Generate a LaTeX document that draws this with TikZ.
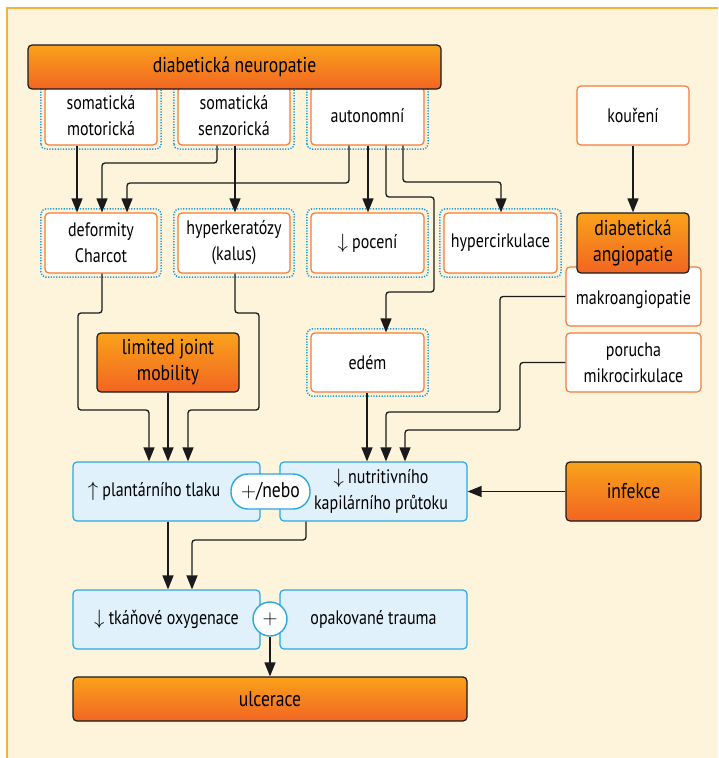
\documentclass[tikz,border=0pt]{standalone}
\usepackage{fontspec}
\setmainfont{PT Sans}[FakeStretch=0.82]
\usetikzlibrary{arrows.meta}
\definecolor{cream}{HTML}{FEF4DC}
\definecolor{frameor}{HTML}{F9B233}
\definecolor{borange}{HTML}{F47B3A}
\definecolor{dark}{HTML}{1A1A1A}
\definecolor{gtop}{HTML}{F9A21B}
\definecolor{gbot}{HTML}{F26522}
\definecolor{bblue}{HTML}{29A8E0}
\definecolor{lblue}{HTML}{E0F1FB}
\definecolor{dblue}{HTML}{1B9BD7}
\tikzset{
 base/.style={align=center, inner sep=0pt, font=\fontsize{19.5}{26}\selectfont},
 wbox/.style={base, draw=borange, fill=white, line width=1.2pt, rounded corners=4pt},
 obox/.style={base, draw=dark, line width=1.2pt, rounded corners=4pt, top color=gtop, bottom color=gbot, font=\fontsize{21.5}{26}\selectfont},
 bbox/.style={base, draw=bblue, fill=lblue, line width=1.2pt, rounded corners=4pt},
 dotline/.style={draw=dblue, line width=1.5pt, dash pattern=on 1.2pt off 1.5pt, rounded corners=5pt},
 conn/.style={draw=dark, line width=1.3pt, rounded corners=3pt, -{Triangle[length=14pt,width=11pt]}},
}
\begin{document}
\begin{tikzpicture}[x=1pt,y=-1pt]
\useasboundingbox (0,0) rectangle (718,758);
\fill[cream] (7,8) rectangle (718,758);
\draw[frameor, line width=1.5pt] (7,758) -- (7,8) -- (718,8);

% top row
\node[wbox, minimum width=112pt, minimum height=58pt] (sm) at (101,116) {somatická\\motorická};
\node[wbox, minimum width=112pt, minimum height=58pt] (ss) at (234,116) {somatická\\senzorická};
\node[wbox, minimum width=113pt, minimum height=58pt] (au) at (367.5,116) {autonomní};
% second row
\node[wbox, minimum width=112pt, minimum height=60pt] (dc) at (101,243) {deformity\\Charcot};
\node[wbox, minimum width=112pt, minimum height=60pt] (hk) at (234,243) {hyperkeratózy\\(kalus)};
\node[wbox, minimum width=113pt, minimum height=60pt] (po) at (367.5,243) {$\downarrow$ pocení};
\node[wbox, minimum width=113pt, minimum height=60pt] (hc) at (500.5,243) {hypercirkulace};
\node[wbox, minimum width=113pt, minimum height=59pt] (ed) at (367.5,362.5) {edém};

\foreach \n in {sm,ss,au,dc,hk,po,hc,ed}
  \draw[dotline] ([xshift=-3.5pt,yshift=-3.5pt]\n.south west) rectangle ([xshift=3.5pt,yshift=3.5pt]\n.north east);

\node[obox, minimum width=413pt, minimum height=44pt] (neu) at (234.5,67) {diabetická neuropatie};

% right column
\node[wbox, minimum width=112pt, minimum height=59pt] (ko) at (633,115.5) {kouření};
\node[wbox, minimum width=135pt, minimum height=59pt, text depth=0pt] (mak) at (633.5,296.5) {\raisebox{-3pt}{makroangiopatie}};
\node[obox, minimum width=112pt, minimum height=60pt] (ang) at (633,243) {diabetická\\angiopatie};
\node[wbox, minimum width=135pt, minimum height=59pt] (por) at (633.5,362.5) {porucha\\mikrocirkulace};
\node[obox, minimum width=142pt, minimum height=59pt] (ljm) at (168,362.5) {limited joint\\mobility};

% blue row
\node[bbox, minimum width=187pt, minimum height=59pt] (pt) at (166.5,491.5) {$\uparrow$ plantárního tlaku\hspace*{25pt}};
\node[bbox, minimum width=187pt, minimum height=59pt] (nk) at (373.5,491.5) {\hspace*{15pt}$\downarrow$ nutritivního\\\hspace*{15pt}kapilárního průtoku};
\node[obox, minimum width=135pt, minimum height=59pt] (inf) at (633.5,491.5) {infekce};
\node[base, draw=bblue, fill=white, line width=1.4pt, rounded corners=17pt, minimum width=79pt, minimum height=35pt, font=\fontsize{21.5}{24}\selectfont] (pill) at (270.5,491.5) {$+$/nebo};

\node[bbox, minimum width=187pt, minimum height=59pt] (ox) at (166.5,619.5) {$\downarrow$ tkáňové oxygenace};
\node[bbox, minimum width=187pt, minimum height=59pt] (ot) at (373.5,619.5) {opakované trauma};
\node[base, circle, draw=bblue, fill=white, line width=1.4pt, minimum size=34pt, font=\fontsize{21.5}{24}\selectfont] (plus) at (270,619) {$+$};
\node[obox, minimum width=394pt, minimum height=44pt] (ulc) at (270,699) {ulcerace};

% connectors
\draw[conn] (77,0 |- sm.south) -- (77,0 |- dc.north);
\draw[conn] (217,0 |- ss.south) |- (102,163) -- (102,0 |- dc.north);
\draw[conn] (235,0 |- ss.south) -- (235,0 |- hk.north);
\draw[conn] (349,0 |- au.south) |- (127,183) -- (127,0 |- dc.north);
\draw[conn] (368,0 |- au.south) -- (368,0 |- po.north);
\draw[conn] (386,0 |- au.south) |- (434,197) |- (386,292) -- (386,0 |- ed.north);
\draw[conn] (403,0 |- au.south) |- (501,182) -- (501,0 |- hc.north);
\draw[conn] (ko.south) -- (ang.north);
\draw[conn] (102,0 |- dc.south) |- (78,313) |- (149,410) -- (149,0 |- pt.north);
\draw[conn] (168,0 |- ljm.south) -- (168,0 |- pt.north);
\draw[conn] (235,0 |- hk.south) |- (259,313) |- (188,410) -- (188,0 |- pt.north);
\draw[conn] (367,0 |- ed.south) -- (367,0 |- nk.north);
\draw[conn] (mak.west) -| (500,412) -| (386,0 |- nk.north);
\draw[conn] (por.west) -| (520,430) -| (405,0 |- nk.north);
\draw[conn] (inf.west) -- (nk.east);
\draw[conn] (168,0 |- pt.south) -- (168,0 |- ox.north);
\draw[conn] (306,0 |- nk.south) |- (192,540) -- (192,0 |- ox.north);
\draw[conn] (plus.south) -- (ulc.north);
\end{tikzpicture}
\end{document}
